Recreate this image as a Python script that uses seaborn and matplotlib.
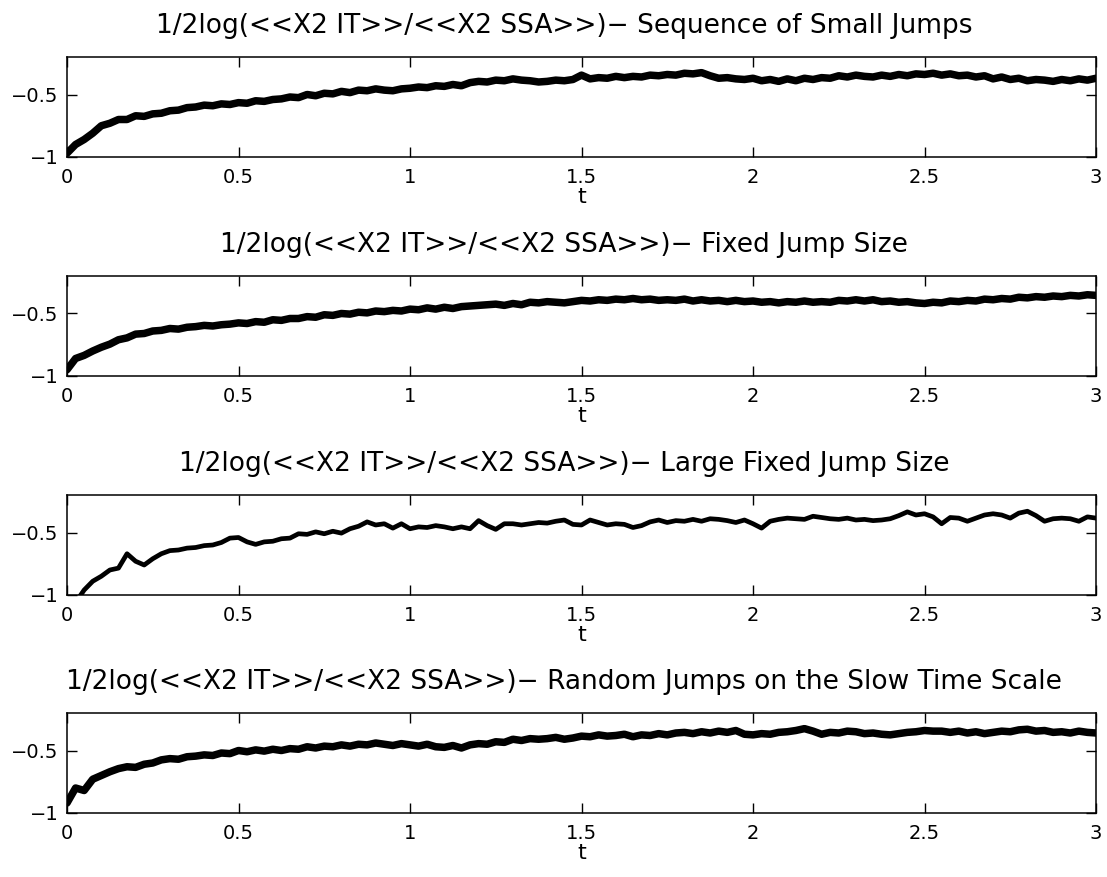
import numpy as np
import pandas as pd
import matplotlib
matplotlib.use("Agg")
import matplotlib.pyplot as plt
import seaborn as sns

# ---------------- data ----------------
t = np.round(np.linspace(0.0, 3.0, 121), 4)

small_jumps = [
    -0.97, -0.90, -0.86, -0.81, -0.75, -0.73, -0.70, -0.70, -0.67, -0.675,
    -0.655, -0.65, -0.63, -0.625, -0.605, -0.60, -0.585, -0.59, -0.575, -0.58,
    -0.565, -0.57, -0.55, -0.555, -0.54, -0.535, -0.52, -0.525, -0.50, -0.51,
    -0.49, -0.495, -0.475, -0.485, -0.465, -0.47, -0.455, -0.465, -0.47, -0.455,
    -0.45, -0.44, -0.445, -0.43, -0.435, -0.42, -0.43, -0.405, -0.395, -0.40,
    -0.385, -0.39, -0.375, -0.385, -0.39, -0.40, -0.395, -0.385, -0.39, -0.38,
    -0.345, -0.375, -0.365, -0.37, -0.355, -0.365, -0.355, -0.36, -0.345, -0.35,
    -0.34, -0.345, -0.33, -0.335, -0.325, -0.35, -0.37, -0.365, -0.375, -0.38,
    -0.37, -0.39, -0.38, -0.395, -0.375, -0.39, -0.37, -0.38, -0.365, -0.37,
    -0.35, -0.36, -0.345, -0.355, -0.36, -0.345, -0.355, -0.34, -0.35, -0.335,
    -0.34, -0.33, -0.345, -0.335, -0.35, -0.345, -0.36, -0.35, -0.375, -0.36,
    -0.38, -0.37, -0.39, -0.38, -0.385, -0.395, -0.38, -0.39, -0.375, -0.385,
    -0.37,
]

fixed_jump = [
    -0.95, -0.86, -0.835, -0.80, -0.77, -0.745, -0.71, -0.695, -0.665, -0.66,
    -0.64, -0.635, -0.62, -0.625, -0.61, -0.605, -0.595, -0.60, -0.59, -0.585,
    -0.575, -0.58, -0.565, -0.57, -0.55, -0.555, -0.54, -0.54, -0.525, -0.53,
    -0.51, -0.515, -0.50, -0.505, -0.49, -0.495, -0.48, -0.485, -0.475, -0.48,
    -0.465, -0.47, -0.455, -0.465, -0.45, -0.46, -0.445, -0.44, -0.435, -0.43,
    -0.425, -0.435, -0.42, -0.43, -0.41, -0.415, -0.405, -0.41, -0.415, -0.405,
    -0.395, -0.40, -0.39, -0.395, -0.385, -0.39, -0.38, -0.39, -0.385, -0.395,
    -0.39, -0.395, -0.385, -0.40, -0.39, -0.40, -0.395, -0.405, -0.395, -0.405,
    -0.40, -0.41, -0.405, -0.415, -0.405, -0.41, -0.40, -0.41, -0.405, -0.41,
    -0.395, -0.40, -0.39, -0.40, -0.39, -0.405, -0.40, -0.41, -0.405, -0.415,
    -0.42, -0.41, -0.415, -0.40, -0.405, -0.395, -0.40, -0.385, -0.39, -0.38,
    -0.385, -0.37, -0.375, -0.365, -0.37, -0.36, -0.365, -0.355, -0.36, -0.35,
    -0.355,
]

large_fixed_jump = [
    -1.20, -1.06, -0.96, -0.89, -0.85, -0.80, -0.785, -0.67, -0.73, -0.76,
    -0.71, -0.67, -0.645, -0.64, -0.625, -0.62, -0.605, -0.60, -0.58, -0.545,
    -0.54, -0.575, -0.595, -0.575, -0.57, -0.55, -0.545, -0.51, -0.515, -0.495,
    -0.51, -0.49, -0.505, -0.47, -0.45, -0.415, -0.44, -0.43, -0.465, -0.43,
    -0.47, -0.455, -0.46, -0.445, -0.455, -0.47, -0.455, -0.47, -0.405, -0.445,
    -0.475, -0.43, -0.43, -0.44, -0.43, -0.42, -0.425, -0.41, -0.40, -0.435,
    -0.44, -0.40, -0.42, -0.44, -0.43, -0.435, -0.46, -0.445, -0.415, -0.40,
    -0.42, -0.405, -0.41, -0.395, -0.41, -0.39, -0.395, -0.405, -0.42, -0.40,
    -0.43, -0.465, -0.41, -0.395, -0.385, -0.39, -0.395, -0.37, -0.38, -0.39,
    -0.395, -0.385, -0.40, -0.395, -0.405, -0.40, -0.39, -0.365, -0.335, -0.36,
    -0.35, -0.375, -0.43, -0.38, -0.385, -0.41, -0.385, -0.36, -0.35, -0.36,
    -0.385, -0.345, -0.33, -0.365, -0.41, -0.39, -0.385, -0.39, -0.41, -0.375,
    -0.385,
]

random_jumps = [
    -0.92, -0.80, -0.82, -0.73, -0.70, -0.67, -0.645, -0.63, -0.635, -0.61,
    -0.60, -0.575, -0.565, -0.57, -0.55, -0.545, -0.535, -0.54, -0.52, -0.525,
    -0.50, -0.51, -0.495, -0.505, -0.49, -0.50, -0.485, -0.49, -0.47, -0.48,
    -0.465, -0.47, -0.455, -0.465, -0.45, -0.455, -0.44, -0.45, -0.46, -0.445,
    -0.455, -0.465, -0.45, -0.47, -0.475, -0.46, -0.48, -0.455, -0.445, -0.45,
    -0.43, -0.435, -0.41, -0.42, -0.405, -0.41, -0.405, -0.395, -0.41, -0.40,
    -0.385, -0.39, -0.375, -0.385, -0.38, -0.37, -0.39, -0.375, -0.38, -0.365,
    -0.375, -0.36, -0.355, -0.365, -0.35, -0.36, -0.345, -0.355, -0.34, -0.37,
    -0.375, -0.365, -0.37, -0.355, -0.35, -0.34, -0.325, -0.345, -0.37, -0.355,
    -0.36, -0.345, -0.35, -0.365, -0.36, -0.37, -0.375, -0.365, -0.355, -0.35,
    -0.34, -0.345, -0.345, -0.355, -0.345, -0.36, -0.35, -0.365, -0.355, -0.345,
    -0.35, -0.335, -0.33, -0.345, -0.34, -0.355, -0.35, -0.36, -0.345, -0.355,
    -0.36,
]

titles = [
    "1/2log(<<X2 IT>>/<<X2 SSA>>)\u2212 Sequence of Small Jumps",
    "1/2log(<<X2 IT>>/<<X2 SSA>>)\u2212 Fixed Jump Size",
    "1/2log(<<X2 IT>>/<<X2 SSA>>)\u2212 Large Fixed Jump Size",
    "1/2log(<<X2 IT>>/<<X2 SSA>>)\u2212 Random Jumps on the Slow Time Scale",
]
x_ticks = [0, 0.5, 1, 1.5, 2, 2.5, 3]
x_tick_labels = ["0", "0.5", "1", "1.5", "2", "2.5", "3"]
y_ticks = [-1, -0.5]
y_tick_labels = ["\u22121", "\u22120.5"]
x_label = "t"

series = [small_jumps, fixed_jump, large_fixed_jump, random_jumps]
line_widths = [5.4, 5.4, 3.4, 5.4]

# ---------------- style ----------------
sns.set_style("white")
plt.rcParams["font.family"] = ["DejaVu Sans"]
plt.rcParams["text.color"] = "black"
plt.rcParams["axes.labelcolor"] = "black"
plt.rcParams["xtick.color"] = "black"
plt.rcParams["ytick.color"] = "black"
plt.rcParams["axes.edgecolor"] = "black"

fig = plt.figure(figsize=(11.07, 8.77), dpi=100)
W, H = 1107.0, 877.0
left_px, right_px = 67.0, 1096.0
tops_px = [57.0, 276.0, 495.0, 713.0]
ax_h_px = 100.0

for i, (vals, ttl) in enumerate(zip(series, titles)):
    top = tops_px[i]
    ax = fig.add_axes([left_px / W, 1 - (top + ax_h_px) / H,
                       (right_px - left_px) / W, ax_h_px / H])
    df = pd.DataFrame({"t": t, "v": vals})
    sns.lineplot(data=df, x="t", y="v", ax=ax, color="black",
                 linewidth=line_widths[i], solid_joinstyle="round",
                 solid_capstyle="round", estimator=None, sort=False)
    ax.set_xlim(0, 3)
    ax.set_ylim(-1, -0.2)
    ax.set_xticks(x_ticks)
    ax.set_xticklabels(x_tick_labels)
    ax.set_yticks(y_ticks)
    ax.set_yticklabels(y_tick_labels)
    ax.tick_params(axis="both", which="both", direction="in", length=7,
                   width=1.0, colors="black", labelsize=14,
                   top=True, right=True, bottom=True, left=True)
    ax.tick_params(axis="x", pad=8)
    ax.tick_params(axis="y", pad=6)
    for sp in ax.spines.values():
        sp.set_visible(True)
        sp.set_color("black")
        sp.set_linewidth(1.1)
    ax.set_xlabel(x_label, fontsize=16, labelpad=0, color="black")
    ax.set_ylabel("")
    ax.set_title(ttl, fontsize=19, pad=17, color="black", x=0.483)
    ax.grid(False)

fig.savefig("out.png", dpi=100, facecolor="white")
